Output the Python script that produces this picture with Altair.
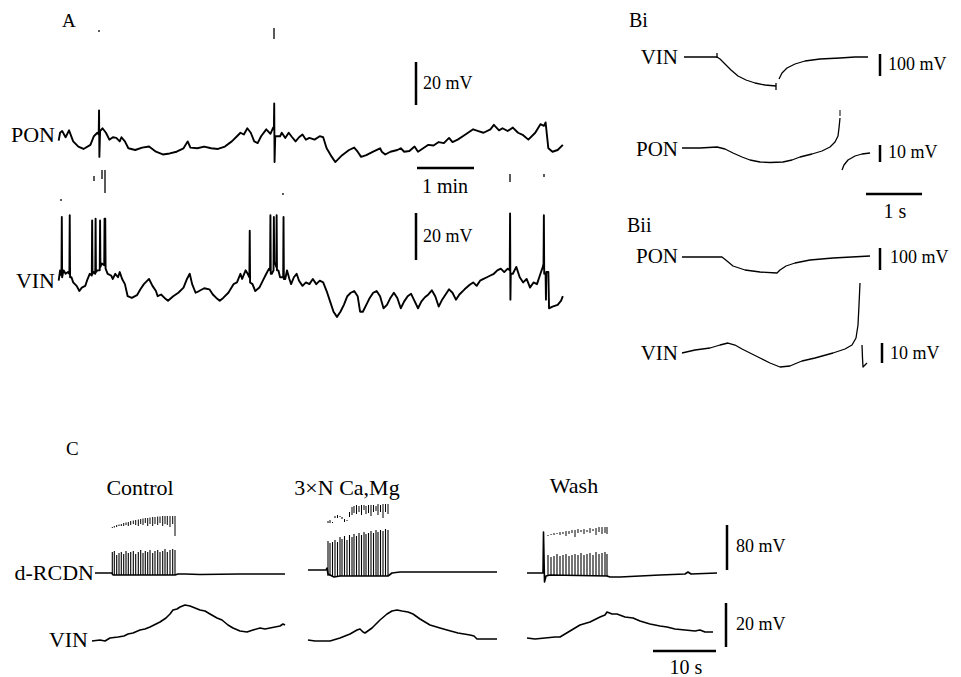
import altair as alt
import pandas as pd

# ---------------- Panel A traces (readings in recorder units: t, v) ----------------
A_PON = [(58,408),(62,385),(68,380),(78,398),(88,378),(100,410),(115,425),(130,432),(150,420),(160,395),
         (170,385),(174,390),(175,320),(176,455),(178,380),(185,372),(195,385),(205,405),(215,398),(225,400),
         (235,410),(240,398),(250,410),(260,430),(280,435),(300,428),(320,425),(340,440),(360,448),(380,445),
         (400,440),(420,430),(432,410),(440,428),(460,430),(480,425),(500,430),(520,432),(540,425),(560,410),
         (575,395),(585,385),(595,390),(605,372),(615,385),(625,410),(635,415),(645,395),(660,375),(672,388),
         (680,370),(682,375),(683,300),(684,470),(686,395),(690,395),(700,395),(705,385),(715,400),(725,385),
         (735,398),(745,410),(755,398),(765,390),(775,405),(785,400),(800,405),(815,395),(825,398),(835,430),
         (850,455),(860,470),(880,450),(900,435),(915,428),(925,440),(935,455),(950,450),(970,440),(990,430),
         (995,440),(1005,448),(1020,440),(1040,435),(1050,430),(1060,440),(1075,438),(1090,425),(1100,440),
         (1115,430),(1130,420),(1145,422),(1160,412),(1175,415),(1190,400),(1200,412),(1215,405),(1230,395),
         (1245,385),(1260,375),(1275,380),(1290,385),(1310,375),(1320,362),(1335,378),(1345,372),(1360,380),
         (1375,370),(1390,385),(1405,392),(1420,405),(1440,385),(1455,360),(1465,365),(1470,355),(1478,430),
         (1490,440),(1505,435),(1520,420)]

A_VIN = [(58,350),(62,320),(66,335),(67,165),(68,340),(72,320),(78,330),(85,325),(89,330),(90,160),(91,340),
         (95,340),(100,355),(110,365),(118,380),(125,370),(135,365),(140,350),(148,330),(154,335),(155,175),
         (156,330),(160,325),(164,330),(165,170),(166,325),(170,320),(177,320),(178,175),(179,310),(183,300),
         (190,305),(191,170),(192,300),(193,170),(194,315),(200,330),(210,335),(215,345),(222,330),(230,340),
         (235,325),(242,345),(250,360),(258,395),(270,400),(285,392),(295,375),(305,360),(315,350),(320,345),
         (330,365),(340,380),(345,395),(355,390),(365,400),(375,408),(390,395),(405,385),(420,370),(430,345),
         (438,330),(445,360),(455,385),(465,380),(480,372),(495,375),(505,390),(515,400),(525,408),(535,400),
         (550,385),(565,360),(575,355),(585,330),(590,345),(600,320),(606,330),(611,340),(612,205),(613,355),
         (620,360),(628,380),(640,370),(650,350),(660,330),(668,315),(671,320),(672,160),(673,330),(676,330),
         (681,320),(682,165),(683,300),(686,300),(689,310),(690,160),(691,320),(695,320),(700,340),(709,340),
         (710,165),(711,345),(715,345),(720,320),(727,345),(732,360),(740,340),(748,330),(755,350),(765,365),
         (775,355),(785,360),(795,345),(805,360),(815,350),(825,355),(835,380),(845,410),(855,440),(865,455),
         (875,440),(885,420),(895,395),(905,385),(915,380),(925,395),(932,440),(940,440),(950,420),(960,400),
         (970,385),(980,380),(990,395),(1000,430),(1010,420),(1020,400),(1030,385),(1040,400),(1050,430),
         (1060,410),(1070,395),(1080,388),(1088,405),(1100,430),(1110,410),(1120,398),(1130,390),(1140,378),
         (1150,395),(1160,425),(1170,405),(1180,390),(1190,375),(1200,385),(1210,405),(1220,390),(1235,375),
         (1250,362),(1260,355),(1270,365),(1280,350),(1290,345),(1300,340),(1310,335),(1320,330),(1330,320),
         (1340,315),(1350,325),(1360,315),(1366,320),(1367,155),(1368,405),(1369,330),(1375,330),(1385,310),
         (1395,340),(1405,355),(1415,345),(1425,370),(1435,355),(1445,360),(1455,330),(1462,310),(1464,300),
         (1465,160),(1466,330),(1470,330),(1471,405),(1472,325),(1478,325),(1480,430),(1490,425),(1505,420),
         (1515,408),(1520,395)]

# ---------------- Panel B traces ----------------
BI_VIN_1 = [(684,57),(717,57),(720,59),(725,64),(731,70),(738,76),(746,80),(755,83),(765,85),(776,86)]
BI_VIN_2 = [(779,79),(782,73),(787,68),(795,64),(805,61),(820,59),(840,58),(855,57),(868,57)]
BI_PON_1 = [(682,148),(700,148),(717,147),(725,149),(733,153),(742,157),(750,160),(760,162),(770,162.5),
            (783,162),(792,160),(800,157),(812,154),(822,151),(830,147),(835,142),(838,136),(839,128),(840,118)]
BI_PON_2 = [(842,170),(844,165),(848,160),(855,156),(862,154),(870,153)]
BII_PON = [(682,257),(722,257),(727,261),(733,266),(745,270),(760,272),(777,273),(780,270),(786,266),
           (795,263),(810,260),(833,258),(870,256)]
BII_VIN_1 = [(682,353),(695,350),(710,348),(720,345),(728,343),(735,345),(742,349),(750,353),(760,358),
             (770,363),(780,367),(790,366),(797,363),(802,361),(815,358),(833,353),(845,349),(852,345),
             (856,338),(858,325),(859,305),(860,283)]
BII_VIN_2 = [(862,345),(862.5,358),(863,367),(865,365),(867,363)]

# ---------------- Panel C traces ----------------
C_CTRL_RCDN = [(95,573),(112,573),(113,575),(175,575),(178,574),(185,574),(200,574.5),(240,574),(285,574)]
C_CA_RCDN = [(308,570),(326,570),(327,568),(328,574),(334,577),(340,576),(388,576),(392,573),(400,572),
             (420,572),(497,572)]
C_WASH_RCDN = [(527,573),(543,573),(543.5,532),(544.5,582),(546,576),(550,575),(607,576),(610,577),
               (620,577),(640,576),(660,575),(685,574),(688,572),(691,574),(717,573)]
C_CTRL_VIN = [(92,641),(100,640),(105,641),(110,638),(118,637),(124,636),(128,634),(133,633),(140,630),
              (145,629),(150,627),(156,624),(160,622),(163,620),(166,618),(170,614),(173,610),(177,609),
              (180,607),(185,605),(190,606),(195,608),(200,610),(205,611),(210,614),(217,618),(222,620),
              (228,625),(233,628),(240,631),(247,632),(253,630),(260,628),(265,629),(270,628),(275,627),
              (280,626),(283,624),(285,625)]
C_CA_VIN = [(308,640),(315,641),(330,641),(340,638),(350,634),(357,630),(360,629),(363,632),(365,633),
            (372,628),(380,620),(387,614),(392,611),(397,610),(402,611),(408,612),(413,614),(420,619),
            (430,625),(440,628),(447,630),(458,633),(470,635),(474,636),(477,639),(485,639),(497,639)]
C_WASH_VIN = [(527,638),(535,639),(545,638),(555,637),(560,637),(570,631),(580,625),(590,622),(600,617),
              (605,615),(607,612),(612,614),(617,614),(625,617),(633,618),(640,621),(650,624),(660,626),
              (667,627),(675,629),(685,630),(695,631),(700,630),(705,632),(713,632)]

# spike trains: times, peak levels, clipped-top fragments (top, bottom)
CTRL_SPK_T = [112.3,114.3,116.7,119,121.3,123.7,126,128.3,130.7,133.3,135.7,138.3,140.7,143,145.3,147.7,
              150,152.7,155,157.7,160,162.7,165,167.3,170,172.7,175]
CTRL_SPK_PEAK = [552,551,555,553,552,554,551,553,552,551,554,552,550,553,551,552,550,553,551,550,552,551,
                 549,552,550,549,550]
CTRL_SPK_TOP = [(527,528),(526,527.5),(525,527),(524.5,526),(524,526),(523,526),(522.5,525),(522,526),
                (521,525),(520.5,524),(520,525),(519.5,526),(519,524),(518.5,525),(518,523),(518,526),
                (517.5,524),(517,526),(517,524),(516.5,525),(516.5,523),(516,526),(516,524),(516,525),
                (516,527),(516,524),(516,536)]
CA_SPK_T = [328,330,332.5,335,337.5,340,342,344.5,347,349.5,352,354,356.5,359,361.5,364,366,368.5,371,
            373.5,376,378,380.5,383,385.5,388]
CA_SPK_PEAK = [541,543,542,540,542,537,539,536,540,535,537,534,536,533,535,532,534,533,531,533,530,532,
               530,531,529,530]
CA_SPK_TOP = [(521,523),(520,523),(522,523),(516,518),(515,518),(516,517),(517,519),(519,522),(520,521),
              (512,517),(507,515),(506,513),(505,514),(506,512),(505,515),(505,510),(506,514),(505,513),
              (505,516),(505,512),(506,511),(504,515),(505,512),(504,518),(504,512),(504,514)]
WASH_SPK_T = [548,551,554,557,560,563,566,569,572,575,578,581,584,587,590,593,596,599,602,605,607]
WASH_SPK_PEAK = [555,557,556,554,556,555,554,556,555,554,555,553,555,554,553,555,552,554,553,552,554]
WASH_SPK_TOP = [(535,536),(534,535),(533,535),(533,534),(532,535),(532,534),(531,536),(531,534),(530,533),
                (530,537),(529,533),(530,532),(529,534),(530,532),(528,533),(529,531),(528,535),(527,532),
                (527,534),(527,533),(527,534)]

# clipped spike tips in A (x, top, bottom)
A_TIPS = [(274,28,39),(99,30,32),(94,176,181),(102,170,179),(105,170,193),(61,199,201),(283,193,195),
          (510,174,182),(544,174,177)]

# scale bars: (x, y, x2, y2)
SCALE_BARS = [(416,62,416,105),(417,168,474,168),(416,213,416,260),
              (880,54,880,76),(880,145,880,162),(866,194,922,194),
              (880,248,880,270),(882,343,882,363),
              (727,525,727,570),(726,603,726,647),(653,651,716,651)]

TEXT_LEFT = [("A",62,21,19),("20 mV",423,84,18),("20 mV",423,237,18),("Bi",629,21,20),
             ("100 mV",888,65,18),("10 mV",888,153,18),("Bii",627,226,20),("100 mV",890,258,18),
             ("10 mV",890,354,18),("C",66,449,19),("80 mV",736,547,18),("20 mV",736,625,18)]
TEXT_RIGHT = [("PON",55,135,22),("VIN",55,281,22),("VIN",678,58,21),("PON",678,150,21),
              ("PON",678,257,21),("VIN",678,354,21),("d-RCDN",94,573,22),("VIN",88,640,22)]
TEXT_CENTER = [("1 min",445,187,20),("1 s",895,212,20),("Control",140,488,22),("3×N Ca,Mg",347,488,22),
               ("Wash",574,486,22),("10 s",686,668,20)]

# ---------------- build tables ----------------
def a_map(pts, y_off):
    return [(38.7 + t / 2.9, y_off + v / 2.9) for t, v in pts]

line_sets = [
    ("a_pon", a_map(A_PON, 0.0), 1.9), ("a_vin", a_map(A_VIN, 160.0), 1.9),
    ("bi_vin1", BI_VIN_1, 1.3), ("bi_vin2", BI_VIN_2, 1.3), ("bi_pon1", BI_PON_1, 1.3),
    ("bi_pon2", BI_PON_2, 1.3), ("bii_pon", BII_PON, 1.3), ("bii_vin1", BII_VIN_1, 1.3),
    ("bii_vin2", BII_VIN_2, 1.3),
    ("c_r1", C_CTRL_RCDN, 1.6), ("c_r2", C_CA_RCDN, 1.6), ("c_r3", C_WASH_RCDN, 1.6),
    ("c_v1", C_CTRL_VIN, 1.6), ("c_v2", C_CA_VIN, 1.6), ("c_v3", C_WASH_VIN, 1.6),
]
rows = []
for name, pts, w in line_sets:
    for i, (x, y) in enumerate(pts):
        rows.append({"seg": name, "ord": i, "x": x, "y": y, "w": w})
lines_df = pd.DataFrame(rows)

rule_rows = []
for x, y, x2, y2 in SCALE_BARS:
    rule_rows.append({"x": x, "y": y, "x2": x2, "y2": y2, "w": 2.5})
for x, top, bot in A_TIPS:
    rule_rows.append({"x": x, "y": top, "x2": x, "y2": bot, "w": 1.3})
rule_rows += [{"x": 717, "y": 53, "x2": 717, "y2": 58, "w": 1.3},
              {"x": 776, "y": 83, "x2": 776, "y2": 90, "w": 1.3},
              {"x": 840, "y": 110, "x2": 840, "y2": 116, "w": 1.0}]
for times, peaks, tops, base in [(CTRL_SPK_T, CTRL_SPK_PEAK, CTRL_SPK_TOP, 575),
                                 (CA_SPK_T, CA_SPK_PEAK, CA_SPK_TOP, 576),
                                 (WASH_SPK_T, WASH_SPK_PEAK, WASH_SPK_TOP, 576)]:
    for t, p, (tt, tb) in zip(times, peaks, tops):
        rule_rows.append({"x": t, "y": p, "x2": t, "y2": base, "w": 1.1})
        rule_rows.append({"x": t, "y": tt, "x2": t, "y2": tb, "w": 1.0})
rules_df = pd.DataFrame(rule_rows)

def tdf(items):
    return pd.DataFrame([{"text": s, "x": x, "y": y, "size": z} for s, x, y, z in items])

W, H = 945, 661
xs = alt.Scale(domain=[8, 8 + W], nice=False, zero=False)
ys = alt.Scale(domain=[8, 8 + H], nice=False, zero=False, reverse=True)
X = lambda f: alt.X(f, type="quantitative", scale=xs, axis=None)
Y = lambda f: alt.Y(f, type="quantitative", scale=ys, axis=None)

lines = alt.Chart(lines_df).mark_line(color="black", strokeJoin="round", strokeCap="butt").encode(
    x=X("x"), y=Y("y"), detail="seg:N", order="ord:Q",
    strokeWidth=alt.StrokeWidth("w:Q", scale=None))

rules = alt.Chart(rules_df).mark_rule(color="black").encode(
    x=X("x"), y=Y("y"), x2="x2:Q", y2="y2:Q",
    strokeWidth=alt.StrokeWidth("w:Q", scale=None))

font = "Liberation Serif"
def text_layer(items, align):
    return alt.Chart(tdf(items)).mark_text(font=font, align=align, baseline="middle", color="black").encode(
        x=X("x"), y=Y("y"), text="text:N", size=alt.Size("size:Q", scale=None))

chart = alt.layer(lines, rules, text_layer(TEXT_LEFT, "left"), text_layer(TEXT_RIGHT, "right"),
                  text_layer(TEXT_CENTER, "center")).properties(
    width=W, height=H, padding=0, background="white"
).configure_view(stroke=None)

chart.save("out.html", embed_options={"renderer": "svg", "actions": False})
